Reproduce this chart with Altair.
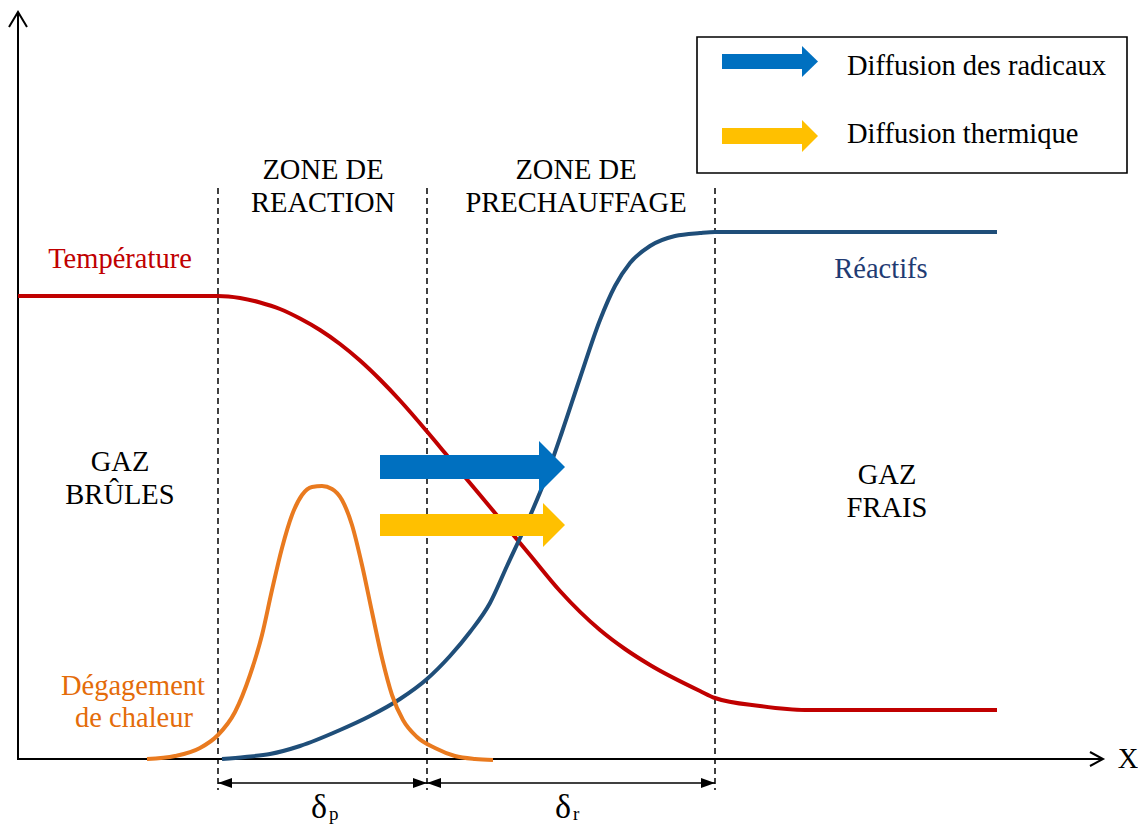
import altair as alt
import pandas as pd

# ---------------- data (x to the right, y downward) ----
temp_x = [18, 218, 240, 260, 280, 300, 320, 340, 360, 380, 400, 427, 445, 467, 490, 510, 530, 560, 600, 625, 650, 700, 715, 760, 805, 997]
temp_y = [296, 296, 298, 302.5, 309, 318.5, 330, 344, 360.5, 379.5, 400.5, 431.5, 453, 479.5, 507, 531, 555, 591, 630, 649, 665, 691, 698, 706, 710, 710]

reac_x = [222, 245, 270, 300, 340, 370, 400, 427, 450, 470, 490, 507, 530, 545, 562, 580, 600, 615, 630, 650, 675, 700, 715, 997]
reac_y = [759, 757, 754, 746, 730, 716, 699, 679, 656, 632, 603, 566, 516, 480, 432, 378, 320, 286, 263, 246, 236, 233, 232, 232]

heat_x = [147, 175, 200, 218, 235, 250, 262, 272, 282, 292, 302, 312, 322, 332, 342, 352, 362, 372, 382, 392, 403, 417, 435, 455, 475, 493]
heat_y = [759, 756, 748, 735, 712, 675, 635, 590, 548, 515, 495, 487, 486, 489, 500, 525, 565, 612, 658, 695, 720, 737, 748, 756, 759, 760]

zone_x = [218, 427, 715]
zone_top, zone_bottom = 188, 790
dim_y = 783

FONT = "Liberation Serif, Times New Roman, serif"
FS = 28.5
W, H = 1130, 816
xs = alt.Scale(domain=[8, 8 + W], nice=False, zero=False)
ys = alt.Scale(domain=[8, 8 + H], reverse=True, nice=False, zero=False)


def X(f="x"):
    return alt.X(f"{f}:Q", scale=xs, axis=None)


def Y(f="y"):
    return alt.Y(f"{f}:Q", scale=ys, axis=None)


def curve(xv, yv, color, width=4):
    df = pd.DataFrame({"x": xv, "y": yv, "i": range(len(xv))})
    return alt.Chart(df).mark_line(color=color, strokeWidth=width, interpolate="monotone").encode(
        x=X(), y=Y(), order="i:Q")


# dashed zone limits
zones = pd.DataFrame({"x": zone_x, "y": [zone_top] * 3, "y2": [zone_bottom] * 3})
zone_layer = alt.Chart(zones).mark_rule(color="#111111", strokeWidth=1.6, strokeDash=[6, 4]).encode(
    x=X(), y=Y(), y2="y2:Q")

# axes (lines + open chevrons)
axes_rules = pd.DataFrame({"x": [18, 18], "x2": [18, 1103], "y": [12, 759], "y2": [760, 759]})
axes_layer = alt.Chart(axes_rules).mark_rule(color="black", strokeWidth=2).encode(
    x=X(), x2="x2:Q", y=Y(), y2="y2:Q")

chev = pd.DataFrame({
    "g": ["v"] * 3 + ["h"] * 3,
    "i": [0, 1, 2, 0, 1, 2],
    "x": [9, 18, 27, 1090, 1103, 1090],
    "y": [27, 12, 27, 752, 759, 766],
})
chev_layer = alt.Chart(chev).mark_line(color="black", strokeWidth=2).encode(
    x=X(), y=Y(), detail="g:N", order="i:Q")

# dimension line
dim = pd.DataFrame({"x": [218], "x2": [715], "y": [dim_y]})
dim_layer = alt.Chart(dim).mark_rule(color="black", strokeWidth=1.6).encode(x=X(), x2="x2:Q", y=Y())

# legend frame
frame = pd.DataFrame({"x": [697], "x2": [1127], "y": [37], "y2": [173]})
frame_layer = alt.Chart(frame).mark_rect(fill="white", stroke="black", strokeWidth=1.6).encode(
    x=X(), x2="x2:Q", y=Y(), y2="y2:Q")

# arrow bodies
bodies = pd.DataFrame({
    "x": [380, 380, 722, 722],
    "x2": [540, 544, 803, 803],
    "y": [455, 514, 54, 128],
    "y2": [479, 536, 69, 144],
    "c": ["#0070C0", "#FFC000", "#0070C0", "#FFC000"],
})
body_layer = alt.Chart(bodies).mark_rect().encode(
    x=X(), x2="x2:Q", y=Y(), y2="y2:Q", color=alt.Color("c:N", scale=None))

# arrow heads (triangles)
heads = pd.DataFrame({
    "g": ["b1", "b1", "y1", "y1", "b2", "b2", "y2", "y2",
          "d1", "d1", "d2", "d2", "d3", "d3", "d4", "d4"],
    "x": [539, 565, 543, 565, 802, 818, 802, 818,
          218, 232, 413, 427, 427, 441, 701, 715],
    "y": [441, 467, 503, 525, 46, 61.5, 120, 136,
          dim_y, dim_y - 5, dim_y - 5, dim_y, dim_y, dim_y - 5, dim_y - 5, dim_y],
    "y2": [493, 467, 547, 525, 77, 61.5, 152, 136,
           dim_y, dim_y + 5, dim_y + 5, dim_y, dim_y, dim_y + 5, dim_y + 5, dim_y],
    "c": ["#0070C0"] * 2 + ["#FFC000"] * 2 + ["#0070C0"] * 2 + ["#FFC000"] * 2 + ["black"] * 8,
})
head_layer = alt.Chart(heads).mark_area(orient="vertical").encode(
    x=X(), y=Y(), y2="y2:Q", detail="g:N", color=alt.Color("c:N", scale=None))

# centred texts
labels = pd.DataFrame([
    (120, 268, "Température", "#C00000"),
    (323, 179, "ZONE DE", "black"),
    (323, 212, "REACTION", "black"),
    (576, 179, "ZONE DE", "black"),
    (576, 212, "PRECHAUFFAGE", "black"),
    (881, 278, "Réactifs", "#1F3B73"),
    (120, 471, "GAZ", "black"),
    (120, 504, "BRÛLES", "black"),
    (887, 484, "GAZ", "black"),
    (887, 517, "FRAIS", "black"),
    (133, 695, "Dégagement", "#E46C0A"),
    (134, 727, "de chaleur", "#E46C0A"),
    (1128, 768, "X", "black"),
], columns=["x", "y", "t", "c"])
text_layer = alt.Chart(labels).mark_text(font=FONT, fontSize=FS, align="center", baseline="alphabetic").encode(
    x=X(), y=Y(), text="t:N", color=alt.Color("c:N", scale=None))

deltas = pd.DataFrame({"x": [319, 563], "y": [818, 818], "t": ["δ", "δ"]})
delta_layer = alt.Chart(deltas).mark_text(font=FONT, fontSize=34, align="center", baseline="alphabetic", color="black").encode(
    x=X(), y=Y(), text="t:N")

subs = pd.DataFrame({"x": [329, 573], "y": [820, 820], "t": ["p", "r"]})
sub_layer = alt.Chart(subs).mark_text(font=FONT, fontSize=19, align="left", baseline="alphabetic", color="black").encode(
    x=X(), y=Y(), text="t:N")

legend_txt = pd.DataFrame({"x": [847, 847], "y": [75, 143], "t": ["Diffusion des radicaux", "Diffusion thermique"]})
legend_layer = alt.Chart(legend_txt).mark_text(font=FONT, fontSize=FS, align="left", baseline="alphabetic", color="black").encode(
    x=X(), y=Y(), text="t:N")

chart = alt.layer(
    zone_layer,
    axes_layer,
    chev_layer,
    dim_layer,
    curve(temp_x, temp_y, "#C00000"),
    curve(reac_x, reac_y, "#1F4E79"),
    curve(heat_x, heat_y, "#E97A1F"),
    frame_layer,
    body_layer,
    head_layer,
    legend_layer,
    text_layer,
    delta_layer,
    sub_layer,
).properties(
    width=W, height=H, padding=0, autosize=alt.AutoSizeParams(type="none"),
).configure_view(stroke=None).configure_text(font=FONT)

chart.save("out.html", embed_options={"renderer": "svg", "actions": False})
